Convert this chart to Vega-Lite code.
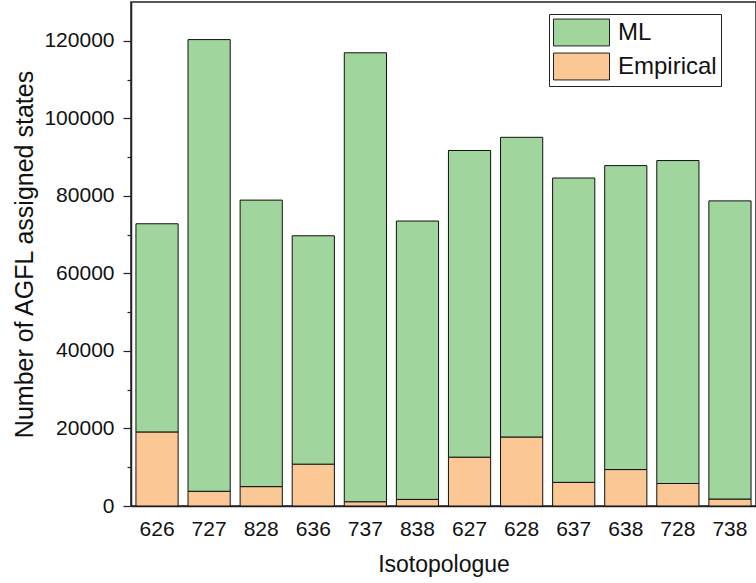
{
  "$schema": "https://vega.github.io/schema/vega-lite/v6.json",
  "width": 625,
  "height": 504,
  "autosize": "none",
  "padding": {"left": 131, "top": 2, "right": 0, "bottom": 77},
  "background": "white",
  "config": {
    "font": "Liberation Sans",
    "view": {"stroke": "#222222", "strokeWidth": 1.5}
  },
  "data": {
    "values": [
      {"isotopologue": "626", "source": "Empirical", "count": 19100},
      {"isotopologue": "626", "source": "ML", "count": 53700},
      {"isotopologue": "727", "source": "Empirical", "count": 3800},
      {"isotopologue": "727", "source": "ML", "count": 116500},
      {"isotopologue": "828", "source": "Empirical", "count": 5000},
      {"isotopologue": "828", "source": "ML", "count": 73900},
      {"isotopologue": "636", "source": "Empirical", "count": 10800},
      {"isotopologue": "636", "source": "ML", "count": 58900},
      {"isotopologue": "737", "source": "Empirical", "count": 1100},
      {"isotopologue": "737", "source": "ML", "count": 115800},
      {"isotopologue": "838", "source": "Empirical", "count": 1700},
      {"isotopologue": "838", "source": "ML", "count": 71800},
      {"isotopologue": "627", "source": "Empirical", "count": 12600},
      {"isotopologue": "627", "source": "ML", "count": 79100},
      {"isotopologue": "628", "source": "Empirical", "count": 17800},
      {"isotopologue": "628", "source": "ML", "count": 77300},
      {"isotopologue": "637", "source": "Empirical", "count": 6100},
      {"isotopologue": "637", "source": "ML", "count": 78500},
      {"isotopologue": "638", "source": "Empirical", "count": 9400},
      {"isotopologue": "638", "source": "ML", "count": 78400},
      {"isotopologue": "728", "source": "Empirical", "count": 5800},
      {"isotopologue": "728", "source": "ML", "count": 83300},
      {"isotopologue": "738", "source": "Empirical", "count": 1800},
      {"isotopologue": "738", "source": "ML", "count": 76900}
    ]
  },
  "mark": {"type": "bar", "stroke": "#111111", "strokeWidth": 1},
  "encoding": {
    "x": {
      "field": "isotopologue",
      "type": "nominal",
      "sort": null,
      "scale": {"paddingInner": 0.19, "paddingOuter": 0.095},
      "axis": {
        "title": "Isotopologue",
        "titleFontSize": 23,
        "titleFontWeight": "normal",
        "titleColor": "#111111",
        "titlePadding": 14,
        "labelFontSize": 21,
        "labelColor": "#111111",
        "labelAngle": 0,
        "labelPadding": 12,
        "ticks": false,
        "domainColor": "#222222",
        "domainWidth": 1.5
      }
    },
    "y": {
      "field": "count",
      "type": "quantitative",
      "stack": "zero",
      "scale": {"domain": [0, 130000], "nice": false},
      "axis": {
        "title": "Number of AGFL assigned states",
        "titleFontSize": 25,
        "titleFontWeight": "normal",
        "titleColor": "#111111",
        "titlePadding": 6,
        "labelFontSize": 21,
        "labelColor": "#111111",
        "labelPadding": 9,
        "values": [0, 10000, 20000, 30000, 40000, 50000, 60000, 70000, 80000, 90000, 100000, 110000, 120000],
        "labelExpr": "datum.value % 20000 === 0 ? format(datum.value, 'd') : ''",
        "tickSize": {"condition": {"test": "datum.value % 20000 === 0", "value": 8}, "value": 4},
        "tickColor": "#222222",
        "tickWidth": 1.2,
        "domainColor": "#222222",
        "domainWidth": 1.5,
        "grid": false
      }
    },
    "color": {
      "field": "source",
      "type": "nominal",
      "scale": {"domain": ["ML", "Empirical"], "range": ["#a1d59e", "#fbc795"]},
      "legend": {
        "title": null,
        "orient": "none",
        "legendX": 418,
        "legendY": 12,
        "labelFontSize": 24,
        "labelColor": "#111111",
        "labelOffset": 22,
        "symbolType": "M-2,-0.96H2V0.96H-2Z",
        "symbolSize": 784,
        "symbolOffset": 14,
        "symbolStrokeColor": "#222222",
        "symbolStrokeWidth": 1,
        "symbolOpacity": 1,
        "rowPadding": 3,
        "padding": 4,
        "strokeColor": "#222222",
        "fillColor": "white"
      }
    },
    "order": {"field": "source", "sort": "ascending"}
  }
}
